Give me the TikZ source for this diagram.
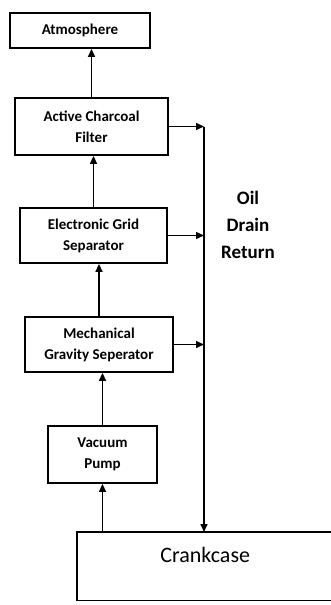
\documentclass[tikz,border=0pt]{standalone}
\usepackage{fontspec}
\setmainfont{Carlito}
\usetikzlibrary{positioning}
\usetikzlibrary{arrows.meta}

\begin{document}
\begin{tikzpicture}[x=1pt, y=-1pt,
		unit/.style={draw, line width=1.8pt, align=center, inner sep=0pt, font=\fontsize{15}{21}\selectfont\bfseries},
		flow/.style={line width=1.5pt, -{Triangle[length=8pt, width=7pt]}}]
			% Page frame
			\useasboundingbox (0,0) rectangle (331,605);

			% Units of the chain
			\node[unit, minimum width=140pt, minimum height=35pt] (atm) at (80,30.5) {Atmosphere};
			\node[unit, minimum width=153pt, minimum height=57pt] (acf) at (91.5,126.5) {Active Charcoal\\Filter};
			\node[unit, minimum width=147pt, minimum height=55pt] (egs) at (93.5,235.5) {Electronic Grid\\Separator};
			\node[unit, minimum width=148pt, minimum height=55pt] (mgs) at (99,344.5) {Mechanical\\Gravity Seperator};
			\node[unit, minimum width=109pt, minimum height=57pt] (vp) at (102.5,454.5) {Vacuum\\Pump};

			% Crankcase, open to the right
			\node[anchor=north west, minimum width=256pt, minimum height=68pt,
				text depth=22pt, font=\fontsize{22}{26}\selectfont] (crank) at (77,532) {Crankcase};
			\draw[line width=1.8pt] (crank.north east) -- (crank.north west) -- (crank.south west) -- (crank.south east);

			% Label of the drain line
			\node[align=center, font=\fontsize{19}{27}\selectfont\bfseries] (oil) at (248,225) {Oil\\Drain\\Return};

			% Gas flow upwards
			\draw[flow] (vp.south |- crank.north) -- (vp.south);
			\draw[flow] (vp.north) -- (vp.north |- mgs.south);
			\draw[flow] (mgs.north) -- (mgs.north |- egs.south);
			\draw[flow] (egs.north) -- (egs.north |- acf.south);
			\draw[flow] (acf.north) -- (acf.north |- atm.south);

			% Oil drain return
			\coordinate (drain) at (204,0);
			\draw[flow] (acf.east) -- (acf.east -| drain);
			\draw[flow] (egs.east) -- (egs.east -| drain);
			\draw[flow] (mgs.east) -- (mgs.east -| drain);
			\draw[flow] (acf.east -| drain) -- (drain |- crank.north);

		\end{tikzpicture}
\end{document}
